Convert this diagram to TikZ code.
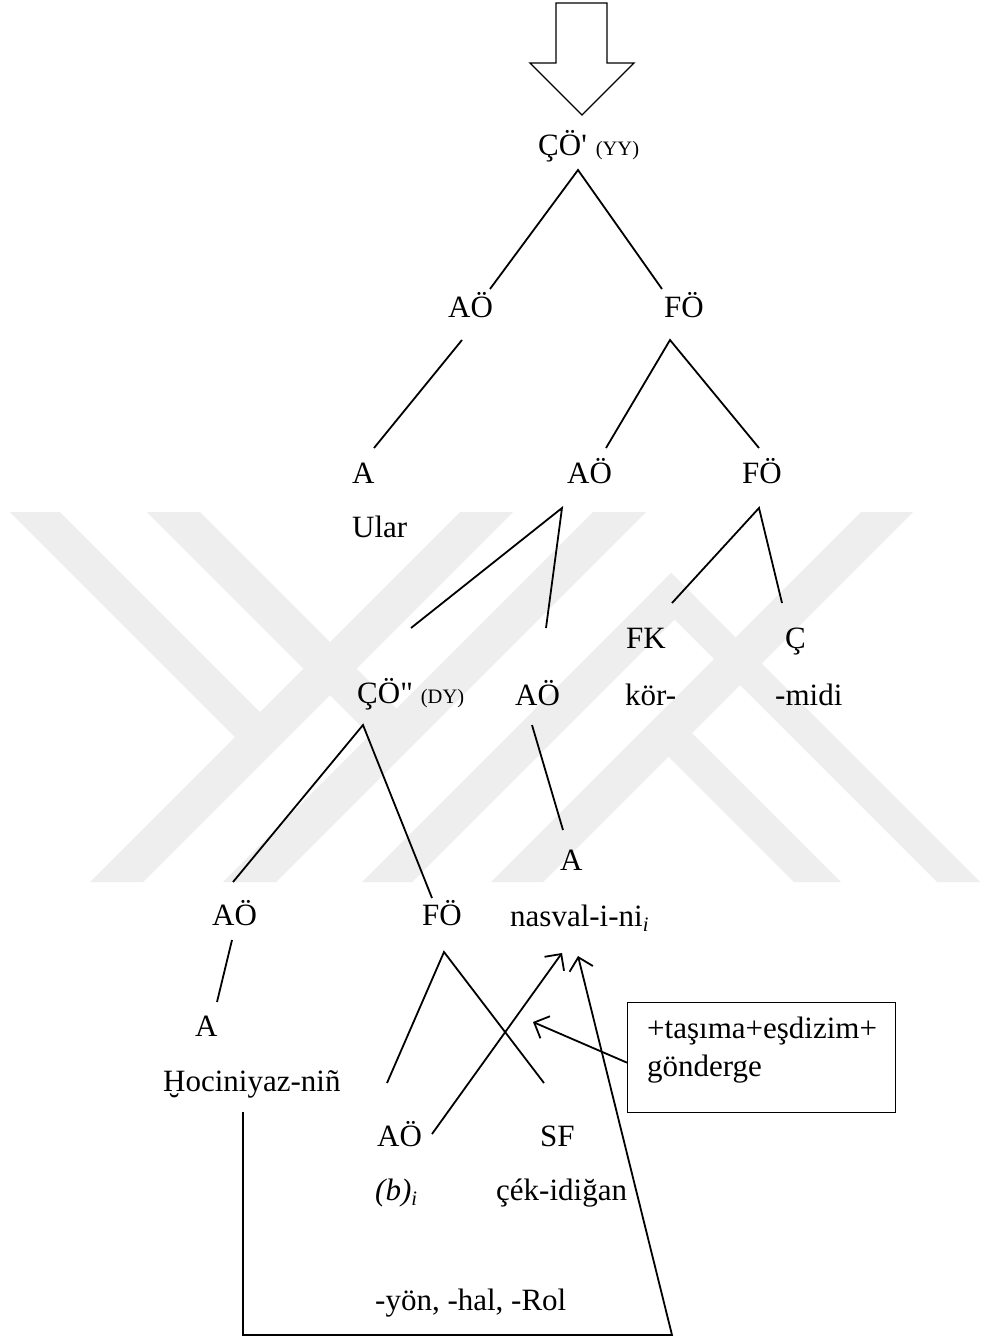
\documentclass[tikz,border=0pt]{standalone}
\usepackage{fontspec}
\setmainfont{Liberation Serif}
\usetikzlibrary{arrows.meta}

\definecolor{wmgray}{RGB}{238,238,238}

% straight single and double quote glyphs (bypass the tex-text mapping)
\newcommand\sqt{\XeTeXglyph\XeTeXcharglyph"27\relax}
\newcommand\dqt{\XeTeXglyph\XeTeXcharglyph"22\relax}
% H with breve below
\newcommand\Hbr{\iffontchar\font"1E2A \symbol{"1E2A}\else\ooalign{H\cr\hidewidth\raisebox{-0.75em}{\symbol{"02D8}}\hidewidth\cr}\fi}
\newcommand\sm{\fontsize{20.5}{24}\selectfont}
\newcommand\subi{\raisebox{-5pt}{\sm\itshape i}}

\tikzset{
  lbl/.style={anchor=base west, inner sep=0pt, font=\fontsize{31}{36}\selectfont},
  edge/.style={line width=1.8pt},
  arr/.style={line width=1.8pt, -{Straight Barb[length=12pt,width=24pt]}},
  wm/.style={fill=wmgray, draw=none},
  framebox/.style={draw, line width=1.3pt, inner sep=0pt, anchor=north west,
    minimum width=268pt, minimum height=110pt},
}

\begin{document}
\begin{tikzpicture}[x=1pt,y=-1pt]
\fill[white] (0,0) rectangle (981,1341);
\useasboundingbox (0,0) rectangle (981,1341);

% faint background logo
\begin{scope}
  \clip (0,512) rectangle (981,882);
  \fill[wm] (460,512) -- (513,512) -- (143,882) -- (90,882) -- cycle;
  \fill[wm] (593,512) -- (646,512) -- (276,882) -- (223,882) -- cycle;
  \fill[wm] (861,512) -- (913,512) -- (543,882) -- (491,882) -- cycle;
  \fill[wm] (10,512) -- (60,512) -- (274,726) -- (249,751) -- cycle;
  \fill[wm] (147,512) -- (200,512) -- (409,721) -- (382.5,747.5) -- cycle;
  \fill[wm] (362,882) -- (412,882) -- (696,598) -- (671,573) -- cycle;
  \fill[wm] (649.5,594.5) -- (671,573) -- (980,882) -- (937,882) -- cycle;
  \fill[wm] (656,744) -- (679.5,720.5) -- (841,882) -- (794,882) -- cycle;
\end{scope}

% hollow arrow on top
\draw[line width=1.4pt, line join=miter]
  (556,3) -- (607,3) -- (607,63) -- (634,63) -- (582,115) -- (530,63) -- (556,63) -- cycle;

% labels
\node[lbl] (co1) at (538,155) {ÇÖ\sqt\hspace{9pt}{\sm (YY)}};
\node[lbl] (ao2) at (448,317) {AÖ};
\node[lbl] (fo2) at (664,317) {FÖ};
\node[lbl] (a3) at (352,483) {A};
\node[lbl] (ao3) at (567,483) {AÖ};
\node[lbl] (fo3) at (742,483) {FÖ};
\node[lbl] (ular) at (352,537) {Ular};
\node[lbl] (fk) at (626,648) {FK};
\node[lbl] (cc) at (785,648) {Ç};
\node[lbl] (co2) at (357,703) {ÇÖ\dqt\hspace{8pt}{\sm (DY)}};
\node[lbl] (ao4) at (515,705) {AÖ};
\node[lbl] (kor) at (625,705) {kör-};
\node[lbl] (midi) at (775,705) {-midi};
\node[lbl] (a5) at (560,870) {A};
\node[lbl] (nas) at (510,926) {nasval-i-ni\subi};
\node[lbl] (ao5) at (212,925) {AÖ};
\node[lbl] (fo5) at (422,925) {FÖ};
\node[lbl] (a6) at (195,1036) {A};
\node[lbl] (hoc) at (163,1091) {\Hbr ociniyaz-niñ};
\node[lbl] (ao7) at (377,1146) {AÖ};
\node[lbl] (sf) at (540,1146) {SF};
\node[lbl] (bi) at (375,1200) {{\itshape (b)}\subi};
\node[lbl] (cek) at (496,1200) {çék-idiğan};
\node[lbl] (yon) at (375,1310) {-yön, -hal, -Rol};

% feature box
\node[framebox] (box) at (627,1002) {};
\node[lbl] (bx1) at (647,1038) {+taşıma+eşdizim+};
\node[lbl] (bx2) at (647,1076) {gönderge};

% attachment points of the tree branches
\coordinate (co1-s) at (578,170);
\coordinate (ao2-n) at (490,289);
\coordinate (fo2-n) at (662,289);
\coordinate (ao2-s) at (462,340);
\coordinate (a3-n) at (374,448);
\coordinate (fo2-s) at (670,340);
\coordinate (ao3-n) at (606,448);
\coordinate (fo3-n) at (759,448);
\coordinate (ao3-s) at (562,508);
\coordinate (co2-n) at (411,628);
\coordinate (ao4-n) at (546,628);
\coordinate (fo3-s) at (759,508);
\coordinate (fk-n) at (672,603);
\coordinate (cc-n) at (782,603);
\coordinate (co2-s) at (363,725);
\coordinate (ao5-n) at (233,882);
\coordinate (fo5-n) at (432,898);
\coordinate (ao4-s) at (532,725);
\coordinate (a5-n) at (563,830);
\coordinate (ao5-s) at (232,940);
\coordinate (a6-n) at (217,1002);
\coordinate (fo5-s) at (444,952);
\coordinate (ao7-n) at (387,1083);
\coordinate (sf-n) at (544,1083);
\coordinate (ao7-e) at (432,1134);
\coordinate (nas-s1) at (562,953);
\coordinate (nas-s2) at (578,956);
\coordinate (nas-s3) at (533,1022);
\coordinate (hoc-s) at (243,1112);
\coordinate (loop-l) at (243,1335);
\coordinate (loop-r) at (672,1335);

% tree branches
\draw[edge] (ao2-n) -- (co1-s) -- (fo2-n);
\draw[edge] (ao2-s) -- (a3-n);
\draw[edge] (ao3-n) -- (fo2-s) -- (fo3-n);
\draw[edge] (co2-n) -- (ao3-s) -- (ao4-n);
\draw[edge] (fk-n) -- (fo3-s) -- (cc-n);
\draw[edge] (ao5-n) -- (co2-s) -- (fo5-n);
\draw[edge] (ao4-s) -- (a5-n);
\draw[edge] (ao5-s) -- (a6-n);
\draw[edge] (ao7-n) -- (fo5-s) -- (sf-n);

% movement / coreference arrows
\draw[arr] (ao7-e) -- (nas-s1);
\draw[arr, line join=miter] (hoc-s) -- (loop-l) -- (loop-r) -- (nas-s2);
\draw[arr] ([yshift=-5pt]box.west) -- (nas-s3);
\end{tikzpicture}
\end{document}
